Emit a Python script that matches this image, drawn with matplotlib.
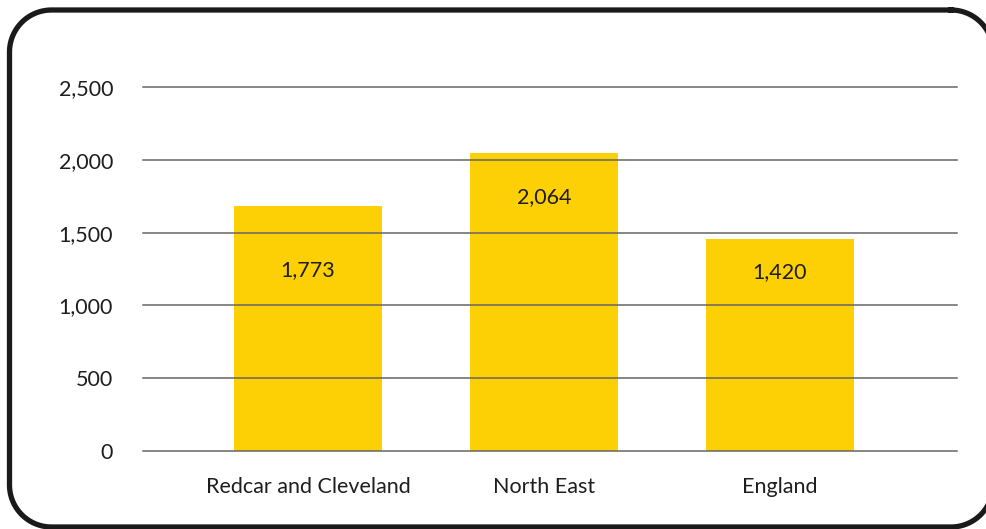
import matplotlib
matplotlib.use("Agg")
import numpy as np
import matplotlib.pyplot as plt
from matplotlib.lines import Line2D
from matplotlib.transforms import Affine2D

categories = ["Redcar and Cleveland", "North East", "England"]
bar_values = [1683, 2047, 1456]
value_labels = ["1,773", "2,064", "1,420"]
label_y = [1245, 1745, 1230]
yticks = [0, 500, 1000, 1500, 2000, 2500]
ytick_labels = ["0", "500", "1,000", "1,500", "2,000", "2,500"]

plt.rcParams["font.family"] = ["Lato", "DejaVu Sans"]
W, H = 986, 529
fig = plt.figure(figsize=(W / 100, H / 100), dpi=100)
fig.patch.set_facecolor("white")

# rounded frame drawn in pixel units (y measured from top)
px = Affine2D().scale(1 / W, -1 / H).translate(0, 1) + fig.transFigure
left, top, right, bottom, r = 9.5, 10, 993, 527, 42
def arc(cx, cy, a0, a1):
    t = np.linspace(np.radians(a0), np.radians(a1), 30)
    return cx + r * np.cos(t), cy + r * np.sin(t)
xs, ys = [], []
for cx, cy, a0, a1 in [(right - r, top + r, 270, 360),
                       (right - r, bottom - r, 0, 90),
                       (left + r, bottom - r, 90, 180),
                       (left + r, top + r, 180, 270)]:
    ax_, ay_ = arc(cx, cy, a0, a1)
    xs.extend(ax_); ys.extend(ay_)
xs.append(xs[0]); ys.append(ys[0])
fig.add_artist(Line2D(xs, ys, transform=px, color="#1a1a1a", linewidth=3.8,
                      solid_joinstyle="round"))

ax = fig.add_axes([143 / W, 1 - 451 / H, (957 - 143) / W, (451 - 87) / H])
x = list(range(len(categories)))
ax.bar(x, bar_values, width=0.627, color="#FDD005", zorder=1)
for xi, lab, ly in zip(x, value_labels, label_y):
    ax.text(xi, ly, lab, ha="center", va="center", fontsize=15.5, color="#1e1e1e", zorder=4)

for yt in yticks:
    ax.axhline(yt, color="#666666", linewidth=1.1, zorder=2, clip_on=False)

ax.set_ylim(0, 2500)
ax.set_xlim(-0.699, 2.75)
ax.set_yticks(yticks)
ax.set_yticklabels(ytick_labels)
ax.set_xticks(x)
ax.set_xticklabels(categories)
ax.tick_params(axis="both", length=0, labelsize=15.5, colors="#1e1e1e")
ax.tick_params(axis="y", pad=21.5)
ax.tick_params(axis="x", pad=18.5)
for s in ax.spines.values():
    s.set_visible(False)
ax.grid(False)
ax.set_facecolor("none")

fig.savefig("out.png", dpi=100)
